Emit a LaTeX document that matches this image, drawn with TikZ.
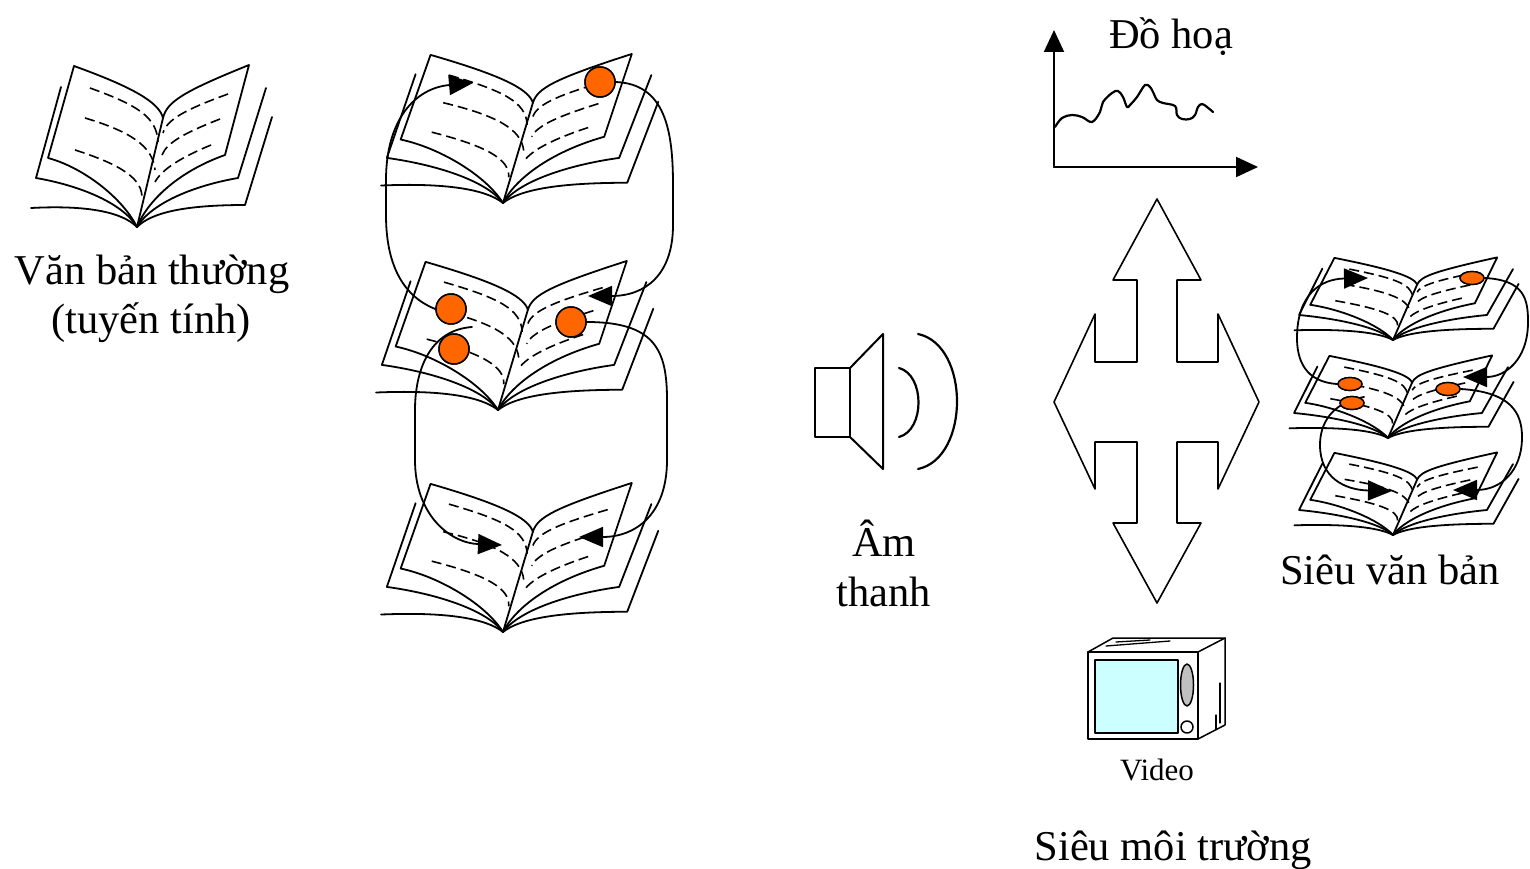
\documentclass[tikz,border=0pt]{standalone}
\usepackage{fontspec}
\setmainfont{Liberation Serif}
\usetikzlibrary{arrows.meta,shapes.geometric}
\definecolor{dotorange}{HTML}{FF6600}
\definecolor{screencyan}{HTML}{CCFFFF}
\definecolor{knobgray}{HTML}{C0C0C0}
\tikzset{
  pics/openbook/.style={code={
    % back layers of pages
    \draw[ink] (-106,-19) .. controls (-50,-22) and (-15,-15) .. (0,0)
               .. controls (15,-15) and (50,-22) .. (108,-22) -- (135,-110);
    \draw[ink] (-76,-140) -- (-101,-49) .. controls (-60,-42) and (-15,-25) .. (0,0)
               .. controls (15,-25) and (60,-42) .. (101,-49) -- (129,-139);
    % open pages
    \draw[ink] (0,0) .. controls (-15,-30) and (-55,-60) .. (-89,-69) -- (-63,-161)
               .. controls (-5,-140) and (22,-125) .. (26,-109)
               .. controls (30,-125) and (45,-135) .. (112,-162) -- (88,-72)
               .. controls (40,-55) and (10,-25) .. (0,0);
    \draw[ink] (26,-109) -- (0,0);
    % lines of text
    \draw[textline] (-47,-139) .. controls (0,-122) and (20,-110) .. (21,-85);
    \draw[textline] (-52,-109) .. controls (-5,-95) and (16,-80) .. (18,-57);
    \draw[textline] (-62,-77) .. controls (-15,-62) and (6,-48) .. (5,-28);
    \draw[textline] (91,-133) .. controls (50,-118) and (30,-108) .. (26,-94);
    \draw[textline] (83,-108) .. controls (50,-95) and (30,-85) .. (25,-72);
    \draw[textline] (74,-82) .. controls (45,-70) and (25,-58) .. (18,-45);
  }}
}
\begin{document}
\begin{tikzpicture}[x=1pt,y=-1pt,line join=round,line cap=round,
  ink/.style={line width=1.8pt},
  textline/.style={line width=1.6pt,dash pattern=on 10pt off 5pt,line cap=butt},
  link/.style={line width=1.8pt,-{Triangle[length=24pt,width=20pt]}},
  bigdot/.style={circle,draw,line width=1.5pt,fill=dotorange,minimum size=30pt,inner sep=0pt},
  smalldot/.style={ellipse,draw,line width=1.4pt,fill=dotorange,minimum width=24pt,minimum height=13pt,inner sep=0pt},
  lbl/.style={inner sep=0pt,font=\fontsize{42.5}{50}\selectfont},
  smalllbl/.style={inner sep=0pt,font=\fontsize{31}{37}\selectfont},
  axis/.style={line width=2pt,-{Triangle[length=22pt,width=20pt]}}]
\useasboundingbox (0,0) rectangle (1530,869);

% ---------- linear text: one book ----------
\pic at (137,227) {openbook};
\node[lbl,anchor=base] (tlin1) at (152,284) {Văn bản thường};
\node[lbl,anchor=base] (tlin2) at (151,333) {(tuyến tính)};

% ---------- stack of linked books ----------
\pic[xscale=1.15,yscale=0.92] at (503,203) {openbook};
\pic[xscale=1.15,yscale=0.92] at (498,410) {openbook};
\pic[xscale=1.15,yscale=0.92] at (503,632) {openbook};
\coordinate (ma) at (588,296);
\coordinate (mb) at (473,83);
\coordinate (mc) at (579,537);
\coordinate (md) at (502,545);
\coordinate (mdstart) at (472,327);
\node[bigdot] (m1) at (600,82) {};
\node[bigdot] (m2) at (451,309) {};
\node[bigdot] (m3) at (454,349) {};
\node[bigdot] (m4) at (571,322) {};
\draw[link] (m1.east) .. controls (665,84) and (673,130) .. (673,185) -- (673,225)
  .. controls (673,275) and (645,296) .. (ma);
\draw[link] (m2.west) .. controls (400,295) and (386,260) .. (386,215) -- (386,180)
  .. controls (386,120) and (415,88) .. (mb);
\draw[link] (m4.east) .. controls (655,322) and (667,350) .. (667,400) -- (667,460)
  .. controls (667,515) and (635,537) .. (mc);
\draw[link] (mdstart) .. controls (430,330) and (415,370) .. (415,410) -- (415,460)
  .. controls (415,515) and (450,543) .. (md);
% dots on top of the links
\node[bigdot] at (m1) {};
\node[bigdot] at (m2) {};
\node[bigdot] at (m3) {};
\node[bigdot] at (m4) {};

% ---------- speaker ----------
\draw[line width=2pt] (815,368) rectangle (850,437);
\draw[line width=2pt] (850,368) -- (883,334) -- (883,469) -- (850,437);
\draw[line width=2.2pt] (899,368) .. controls (925,375) and (925,430) .. (899,437);
\draw[line width=2.2pt] (918,334) .. controls (970,345) and (970,458) .. (918,469);
\node[lbl,anchor=base] (tam1) at (884,556) {Âm};
\node[lbl,anchor=base] (tam2) at (884,606) {thanh};

% ---------- graph ----------
\coordinate (gorig) at (1054,167);
\coordinate (gy) at (1054,30);
\coordinate (gx) at (1258,167);
\draw[axis] (gorig) -- (gy);
\draw[axis] (gorig) -- (gx);
\draw[line width=2.2pt] plot[smooth,tension=0.6] coordinates {
 (1055,127) (1062,118) (1072,115) (1082,117) (1092,122) (1100,112) (1103,102)
 (1112,93) (1118,91) (1123,97) (1127,107) (1130,105) (1137,97) (1145,85)
 (1150,87) (1153,92) (1157,100) (1163,103) (1175,106) (1177,115) (1182,119)
 (1190,119) (1195,115) (1198,107) (1202,104) (1207,107) (1213,112)};
\node[lbl,anchor=base] (tdh) at (1171,49) {Đồ hoạ};

% ---------- four-way arrow ----------
\draw[line width=1.6pt] (1157,199) -- (1201,280) -- (1177,280) -- (1177,362)
  -- (1218,362) -- (1218,314) -- (1259,402) -- (1218,489) -- (1218,442)
  -- (1177,442) -- (1177,523) -- (1201,523) -- (1157,603) -- (1113,523)
  -- (1137,523) -- (1137,442) -- (1095,442) -- (1095,489) -- (1054,402)
  -- (1095,314) -- (1095,362) -- (1137,362) -- (1137,280) -- (1113,280) -- cycle;

% ---------- video set ----------
\draw[line width=1.5pt] (1088,652) rectangle (1198,739);
\draw[line width=2pt,fill=screencyan] (1095,660) rectangle (1178,733);
\draw[line width=1.5pt] (1088,652) -- (1113,638) -- (1225,638) -- (1198,652);
\draw[line width=1.5pt] (1225,638) -- (1225,725) -- (1198,739);
\draw[line width=1.3pt] (1106,646) -- (1170,641);
\draw[line width=1.3pt] (1116,642) -- (1150,640);
\draw[line width=1.2pt] (1220,683) -- (1220,723);
\draw[line width=1.2pt] (1216,715) -- (1216,729);
\draw[line width=1.5pt,fill=knobgray] (1187,685) ellipse [x radius=6.5,y radius=21];
\draw[line width=1.5pt,fill=white] (1187,727) circle [radius=6];
\node[smalllbl,anchor=base] (tvid) at (1157,780) {Video};
\node[lbl,anchor=base] (tsmt) at (1173,860) {Siêu môi trường};

% ---------- hypertext stack ----------
\pic[xscale=0.93,yscale=0.51] at (1393,340) {openbook};
\pic[xscale=0.93,yscale=0.51] at (1388,438) {openbook};
\pic[xscale=0.93,yscale=0.51] at (1393,535) {openbook};
\node[smalldot] (r1) at (1472,278) {};
\node[smalldot] (r2) at (1350,384) {};
\node[smalldot] (r3) at (1352,403) {};
\node[smalldot] (r4) at (1448,389) {};
\coordinate (ra) at (1463,377);
\coordinate (rb) at (1368,278);
\coordinate (rc) at (1453,490);
\coordinate (rd) at (1392,491);
\coordinate (rdstart) at (1364,397);
\draw[link] (r1.east) .. controls (1525,280) and (1528,300) .. (1528,322)
  .. controls (1528,360) and (1505,377) .. (ra);
\draw[link] (r2.west) .. controls (1305,382) and (1297,360) .. (1297,338)
  .. controls (1297,295) and (1320,279) .. (rb);
\draw[link] (r4.east) .. controls (1510,392) and (1522,412) .. (1522,437)
  .. controls (1522,472) and (1500,490) .. (rc);
\draw[link] (rdstart) .. controls (1330,403) and (1320,425) .. (1320,445)
  .. controls (1320,478) and (1345,490) .. (rd);
\node[smalldot] at (r1) {};
\node[smalldot] at (r2) {};
\node[smalldot] at (r3) {};
\node[smalldot] at (r4) {};
\node[lbl,anchor=base] (tsvb) at (1390,584) {Siêu văn bản};
\end{tikzpicture}
\end{document}
